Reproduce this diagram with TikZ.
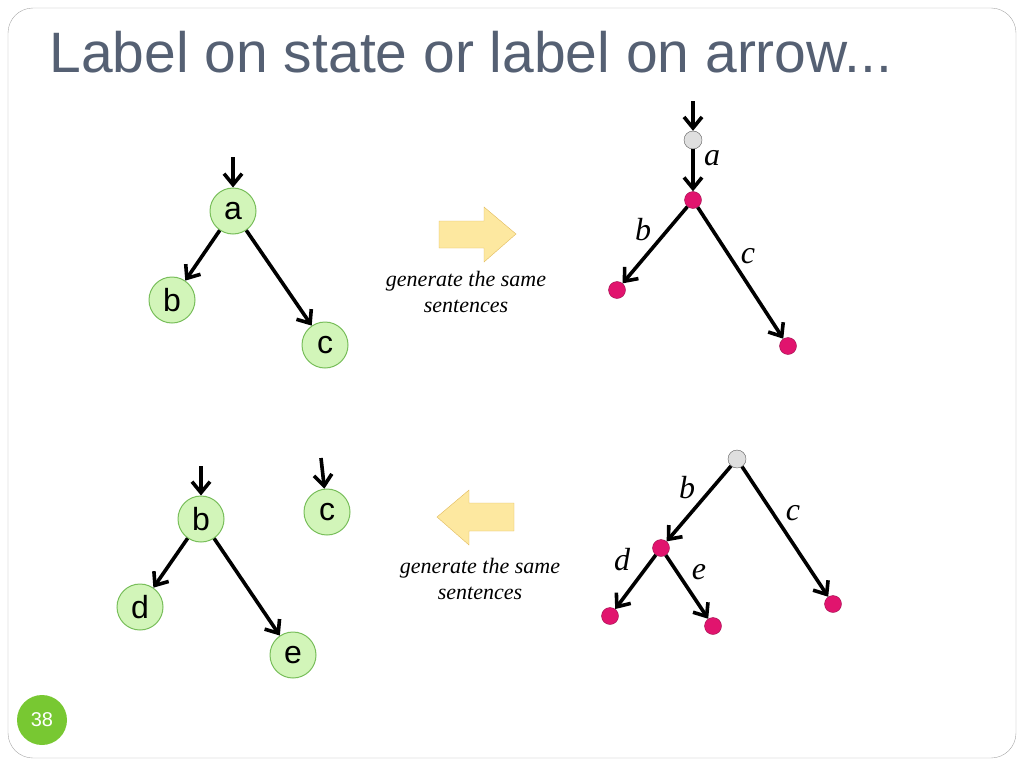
\documentclass[tikz,border=0pt]{standalone}
\usepackage{fontspec}
\setsansfont{Liberation Sans}
\setmainfont{Liberation Serif}
\usetikzlibrary{shapes,arrows.meta,positioning,calc}

\begin{document}
\begin{tikzpicture}[x=1pt,y=-1pt]
        \definecolor{titlegray}{RGB}{85,96,115}
        \definecolor{statefill}{RGB}{210,245,185}
        \definecolor{stateedge}{RGB}{120,190,90}
        \definecolor{dotpink}{RGB}{225,20,110}
        \definecolor{pagegreen}{RGB}{120,200,50}
        \definecolor{arrowfill}{RGB}{253,232,160}
        \definecolor{arrowedge}{RGB}{225,185,90}

        \tikzset{
            state/.style={circle, fill=statefill, draw=stateedge, line width=1pt, minimum size=46pt, inner sep=0pt, font=\sffamily\fontsize{32}{32}\selectfont},
            dot/.style={circle, fill=dotpink, draw=dotpink!70!black, minimum size=17pt, inner sep=0pt},
            start/.style={circle, fill=gray!25, draw=gray!70!black, minimum size=18pt, inner sep=0pt},
            edge/.style={line width=3.6pt, -{Straight Barb[length=11pt,width=18pt]}},
            lbl/.style={font=\fontsize{32}{32}\selectfont\itshape},
            note/.style={font=\fontsize{22}{26}\selectfont\itshape, align=center}
        }

        \useasboundingbox (0,0) rectangle (1024,768);
        \draw[gray!70, rounded corners=25pt] (8,8) rectangle (1016,758);
        \node[anchor=west, text=titlegray, font=\sffamily\fontsize{57}{57}\selectfont] (title) at (46,52) {Label on state or label on arrow...};
        \node[circle, fill=pagegreen, minimum size=50pt, text=white, font=\sffamily\fontsize{20}{20}\selectfont] (page) at (42,720) {38};

        % top left: labels on states
        \coordinate (ina) at (233,157);
        \node[state] (a) at (233,211) {a};
        \node[state] (b) at (172,300) {b};
        \node[state] (c) at (325,345) {c};
        \draw[edge] (ina) -- (a);
        \draw[edge] (a) -- (b);
        \draw[edge] (a) -- (c);

        % right arrow
        \draw[arrowedge, fill=arrowfill] (439,221) -- (484,221) -- (484,207) -- (516,234) -- (484,262) -- (484,248) -- (439,248) -- cycle;
        \node[note] (same1) at (466,292) {generate the same\\sentences};

        % top right: labels on arrows
        \coordinate (ins) at (693,101);
        \node[start] (s) at (693,140) {};
        \node[dot] (p) at (693,200) {};
        \node[dot] (q) at (617,290) {};
        \node[dot] (r) at (788,346) {};
        \draw[edge] (ins) -- (s);
        \draw[edge] (s) -- (p);
        \draw[edge] (p) -- (q);
        \draw[edge] (p) -- (r);
        \node[lbl] (la) at (712,158) {a};
        \node[lbl] (lb) at (643,230) {b};
        \node[lbl] (lc) at (748,256) {c};

        % bottom left: labels on states
        \coordinate (inb) at (201,466);
        \coordinate (inc) at (321,458);
        \node[state] (b2) at (201,519) {b};
        \node[state] (c2) at (327,512) {c};
        \node[state] (d2) at (140,607) {d};
        \node[state] (e2) at (293,655) {e};
        \draw[edge] (inb) -- (b2);
        \draw[edge] (inc) -- (c2);
        \draw[edge] (b2) -- (d2);
        \draw[edge] (b2) -- (e2);

        % left arrow
        \draw[arrowedge, fill=arrowfill] (514,503) -- (469,503) -- (469,490) -- (437,517) -- (469,545) -- (469,531) -- (514,531) -- cycle;
        \node[note] (same2) at (480,579) {generate the same\\sentences};

        % bottom right: labels on arrows
        \node[start] (t) at (737,459) {};
        \node[dot] (u) at (661,548) {};
        \node[dot] (v) at (610,616) {};
        \node[dot] (w) at (713,626) {};
        \node[dot] (x) at (833,604) {};
        \draw[edge] (t) -- (u);
        \draw[edge] (t) -- (x);
        \draw[edge] (u) -- (v);
        \draw[edge] (u) -- (w);
        \node[lbl] (lb2) at (687,488) {b};
        \node[lbl] (lc2) at (793,513) {c};
        \node[lbl] (ld2) at (622,560) {d};
        \node[lbl] (le2) at (699,572) {e};
    \end{tikzpicture}
\end{document}
